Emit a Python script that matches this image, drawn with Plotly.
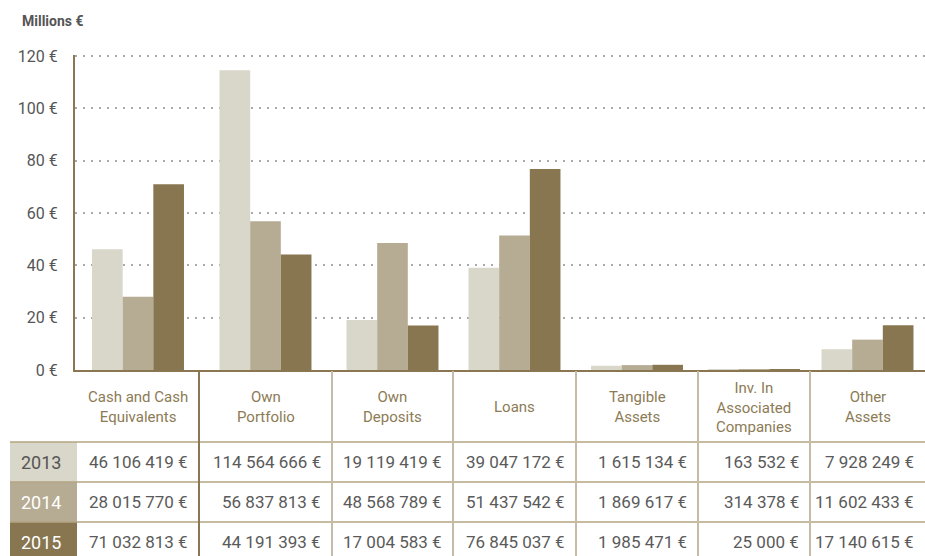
import plotly.graph_objects as go

# ---- data -------------------------------------------------------------
categories = [
    "Cash and Cash<br>Equivalents",
    "Own<br>Portfolio",
    "Own<br>Deposits",
    "Loans",
    "Tangible<br>Assets",
    "Inv. In<br>Associated<br>Companies",
    "Other<br>Assets",
]
years = ["2013", "2014", "2015"]
values_2013 = [46106419, 114564666, 19119419, 39047172, 1615134, 163532, 7928249]
values_2014 = [28015770, 56837813, 48568789, 51437542, 1869617, 314378, 11602433]
values_2015 = [71032813, 44191393, 17004583, 76845037, 1985471, 25000, 17140615]
y_ticks = [0, 20, 40, 60, 80, 100, 120]
y_tick_labels = [f"{v} €" for v in y_ticks]

series = [values_2013, values_2014, values_2015]

# ---- style ------------------------------------------------------------
year_colors = ["#d9d6ca", "#b6ab93", "#87764f"]
year_text_colors = ["#555555", "#ffffff", "#ffffff"]
axis_color = "#8a7650"
header_color = "#8c7b55"
value_color = "#5a5a5a"
hline_color = "#b3a482"
vline_light = "#c5bba6"
FONT = "Roboto, 'Open Sans', sans-serif"

W, H = 925, 556
PLOT_L, PLOT_R, PLOT_T, PLOT_B = 75, 925, 55, 370
Y_MAX = 120.4  # a hair above the top tick so its grid line is kept

# table geometry (pixels)
COL_EDGES = [77, 199, 332, 453, 576, 698, 810, 925]
YEAR_COL = (10, 77)
HEADER_BOTTOM = 442
ROW_H = 40


def xp(px):
    return (px - PLOT_L) / (PLOT_R - PLOT_L)


def yp(py):
    return (PLOT_B - py) / (PLOT_B - PLOT_T)


# bar groups sit at the centre of their table column
centers = [(a + b) / 2 for a, b in zip(COL_EDGES[:-1], COL_EDGES[1:])]

fig = go.Figure()
for year, vals, col in zip(years, series, year_colors):
    fig.add_trace(
        go.Bar(
            x=centers,
            y=[v / 1e6 for v in vals],
            name=year,
            marker=dict(color=col, line=dict(width=0)),
            hovertemplate="%{y:.2f} M€<extra>" + year + "</extra>",
        )
    )

shapes = []
annotations = []

# header row: category names
for i, cat in enumerate(categories):
    annotations.append(
        dict(
            x=xp(centers[i]), y=yp((PLOT_B + HEADER_BOTTOM) / 2 + 1),
            xref="paper", yref="paper", text=cat, showarrow=False,
            xanchor="center", yanchor="middle", align="center",
            font=dict(family=FONT, size=15, color=header_color),
        )
    )

# data rows
for r, (year, vals) in enumerate(zip(years, series)):
    top = HEADER_BOTTOM + r * ROW_H
    bot = top + ROW_H
    mid = (top + bot) / 2
    shapes.append(
        dict(
            type="rect", xref="paper", yref="paper",
            x0=xp(YEAR_COL[0]), x1=xp(YEAR_COL[1]), y0=yp(bot), y1=yp(top),
            fillcolor=year_colors[r], line=dict(width=0), layer="below",
        )
    )
    annotations.append(
        dict(
            x=xp((YEAR_COL[0] + YEAR_COL[1]) / 2 - 3), y=yp(mid),
            xref="paper", yref="paper", text=year, showarrow=False,
            xanchor="center", yanchor="middle",
            font=dict(family=FONT, size=18, color=year_text_colors[r]),
        )
    )
    for c, v in enumerate(vals):
        annotations.append(
            dict(
                x=xp(COL_EDGES[c + 1] - 9), y=yp(mid),
                xref="paper", yref="paper",
                text=f"{v:,}".replace(",", " ") + " €", showarrow=False,
                xanchor="right", yanchor="middle",
                font=dict(family=FONT, size=17, color=value_color),
            )
        )

# horizontal rules between rows
for r in range(3):
    y = HEADER_BOTTOM + r * ROW_H
    shapes.append(
        dict(
            type="line", xref="paper", yref="paper",
            x0=xp(YEAR_COL[0]), x1=xp(W), y0=yp(y), y1=yp(y),
            line=dict(color=hline_color, width=1.5),
        )
    )

# vertical column separators
for k, x in enumerate(COL_EDGES[1:-1]):
    shapes.append(
        dict(
            type="line", xref="paper", yref="paper",
            x0=xp(x), x1=xp(x), y0=yp(PLOT_B + 1), y1=yp(H + 5),
            line=dict(color=axis_color if k == 0 else vline_light, width=2),
        )
    )

annotations.append(
    dict(
        x=xp(20), y=yp(21), xref="paper", yref="paper",
        text="<b>Millions €</b>", showarrow=False,
        xanchor="left", yanchor="middle",
        font=dict(family=FONT, size=14, color="#555555"),
    )
)

fig.update_layout(
    width=W, height=H,
    margin=dict(l=PLOT_L, r=W - PLOT_R, t=PLOT_T, b=H - PLOT_B, pad=0),
    paper_bgcolor="white", plot_bgcolor="white",
    barmode="group", bargap=0.19, bargroupgap=0,
    showlegend=False,
    shapes=shapes, annotations=annotations,
    font=dict(family=FONT),
    xaxis=dict(
        range=[PLOT_L, PLOT_R], showgrid=False, zeroline=False,
        showticklabels=False, ticks="",
        showline=True, linecolor=axis_color, linewidth=2,
        fixedrange=True,
    ),
    yaxis=dict(
        range=[0, Y_MAX], tickmode="array",
        tickvals=y_ticks, ticktext=y_tick_labels,
        tickfont=dict(family=FONT, size=16, color="#555555"),
        showgrid=True, gridcolor="#a9a9a9", gridwidth=1.5,
        griddash="2px,6px",
        zeroline=False, showline=True, linecolor=axis_color, linewidth=2,
        ticks="", ticklabelstandoff=12, fixedrange=True,
    ),
)

fig.write_html("out.html")
